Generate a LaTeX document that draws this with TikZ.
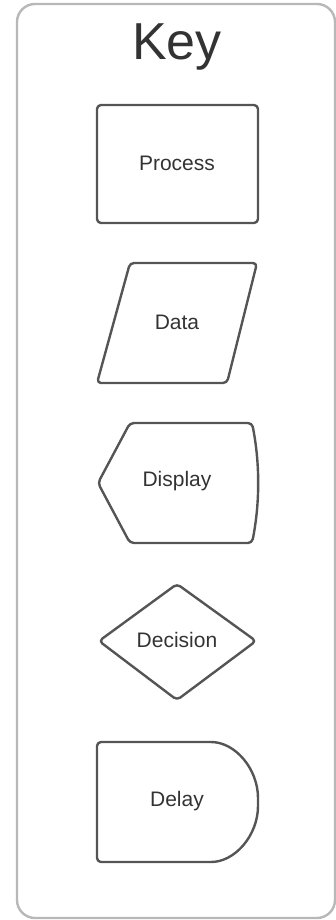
\documentclass[tikz,border=0pt]{standalone}
\usepackage{fontspec}
\setmainfont{Liberation Sans}
\definecolor{shapeline}{HTML}{555555}
\definecolor{frameline}{HTML}{B8B8B8}
\definecolor{txt}{HTML}{333333}
\begin{document}
\begin{tikzpicture}[x=1pt,y=-1pt,
  shapestyle/.style={draw=shapeline,line width=2.4pt,rounded corners=4pt,line join=round},
  labeltext/.style={text=txt,font=\fontsize{21}{24}\selectfont,inner sep=0pt,anchor=center}]
\useasboundingbox (0,0) rectangle (336,920);
% outer frame
\draw[frameline,line width=2.4pt,rounded corners=18pt] (17,4) rectangle (335,918);
\node[text=txt,font=\fontsize{52}{60}\selectfont,inner sep=0pt] (keytitle) at (177,47) {Key};
% Process
\draw[shapestyle] (97,105) rectangle (258,223);
\node[labeltext] (process) at (177,163) {Process};
% Data
\draw[shapestyle] (130,263) -- (257,263) -- (227,383) -- (97,383) -- cycle;
\node[labeltext] (data) at (177,322) {Data};
% Display
\draw[shapestyle] (98,483) -- (130,423) -- (252,423)
  .. controls (260,463) and (260,503) .. (252,543) -- (130,543) -- cycle;
\node[labeltext] (display) at (177,481) {Display};
% Decision
\draw[shapestyle] (177,584) -- (256,641) -- (177,700) -- (99,641) -- cycle;
\node[labeltext] (decision) at (177,640) {Decision};
% Delay
\draw[shapestyle] (207,742) .. controls (235.2,742) and (258,768.9) .. (258,802)
  .. controls (258,835.1) and (235.2,862) .. (207,862) -- (97,862) -- (97,742) -- cycle;
\node[labeltext] (delay) at (177,801) {Delay};
\end{tikzpicture}
\end{document}
